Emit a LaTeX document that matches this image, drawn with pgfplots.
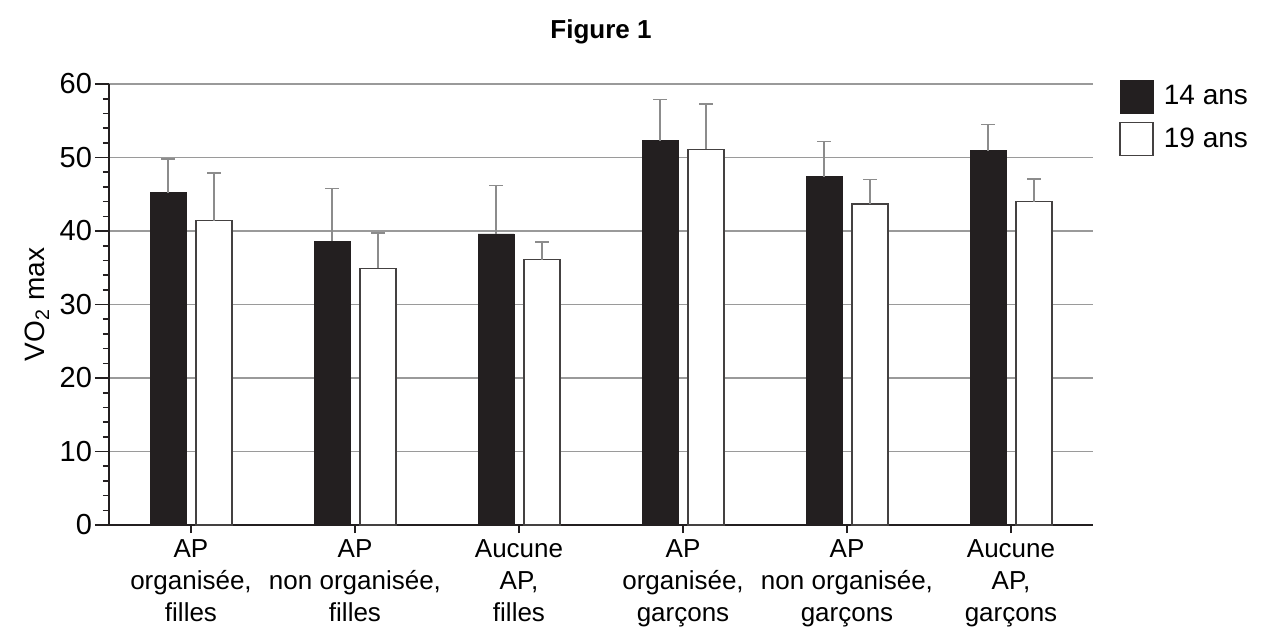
\documentclass[border=0pt]{standalone}
\usepackage{pgfplots}
\pgfplotsset{compat=1.18}
\usepackage{pgfplotstable}
\usepackage{fontspec}
\setmainfont{Liberation Sans}
\definecolor{barblack}{HTML}{231F20}
\definecolor{axisdark}{HTML}{231F20}
\definecolor{gridgray}{HTML}{9A9A9A}
\definecolor{errgray}{HTML}{8C8C8C}
\pgfplotstableread{
x y e
0 45.2 4.6
1 38.6 7.2
2 39.6 6.6
3 52.3 5.6
4 47.4 4.8
5 50.9 3.6
}\quatorze
\pgfplotstableread{
x y e
0 41.4 6.5
1 34.9 4.8
2 36.1 2.4
3 51.1 6.2
4 43.7 3.3
5 44.0 3.1
}\dixneuf
\begin{document}
\begin{tikzpicture}
\begin{axis}[
  width=492pt, height=220.5pt, scale only axis,
  xmin=-0.5, xmax=5.5, ymin=0, ymax=60,
  ybar=5pt, bar width=18pt,
  axis x line*=bottom, axis y line*=left,
  axis line style={axisdark, line width=1pt},
  ytick={0,10,...,60}, minor y tick num=4,
  xtick={0,...,5},
  xticklabels={{AP\\organisée,\\filles},{AP\\non organisée,\\filles},{Aucune\\AP,\\filles},{AP\\organisée,\\garçons},{AP\\non organisée,\\garçons},{Aucune\\AP,\\garçons}},
  xticklabel style={align=center, font=\fontsize{13}{16}\selectfont, text=black, yshift=3pt},
  yticklabel style={font=\fontsize{14.5}{16}\selectfont, text=black, xshift=2pt},
  /pgf/number format/assume math mode=true,
  tick align=outside,
  tick style={axisdark, line width=0.8pt},
  major tick length=7pt, minor tick length=3pt,
  xtick style={/pgfplots/major tick length=4pt},
  ymajorgrids, grid style={gridgray, line width=0.75pt},
  ylabel={VO\textsubscript{2} max},
  ylabel style={at={(axis description cs:-0.073,0.5)}, anchor=center, font=\fontsize{14}{16}\selectfont},
  title={\textbf{Figure 1}},
  title style={at={(axis description cs:0.5,1)}, anchor=center, yshift=20pt, font=\fontsize{13}{15}\selectfont},
  legend style={at={(axis description cs:1,1.02)}, anchor=north west, xshift=10pt, draw=none, fill=none, font=\fontsize{14}{17}\selectfont, row sep=4pt, cells={anchor=west},
    nodes={inner xsep=5pt}},
  legend image code/.code={\draw[#1] (0pt,-8.3pt) rectangle (16.5pt,8.3pt);},
]
\addplot[fill=barblack, draw=barblack,
  error bars/.cd, y dir=plus, y explicit,
  error bar style={errgray, line width=0.75pt},
  error mark options={rotate=90, errgray, mark size=3.5pt, line width=0.75pt}]
  table[x=x, y=y, y error=e] {\quatorze};
\addlegendentry{14 ans}
\addplot[fill=white, draw=axisdark!85, line width=0.75pt,
  error bars/.cd, y dir=plus, y explicit,
  error bar style={errgray, line width=0.75pt},
  error mark options={rotate=90, errgray, mark size=3.5pt, line width=0.75pt}]
  table[x=x, y=y, y error=e] {\dixneuf};
\addlegendentry{19 ans}
\end{axis}
\pgfresetboundingbox
\path[use as bounding box] (-54.5pt,-54pt) rectangle (576pt,262.5pt);
\end{tikzpicture}
\end{document}
